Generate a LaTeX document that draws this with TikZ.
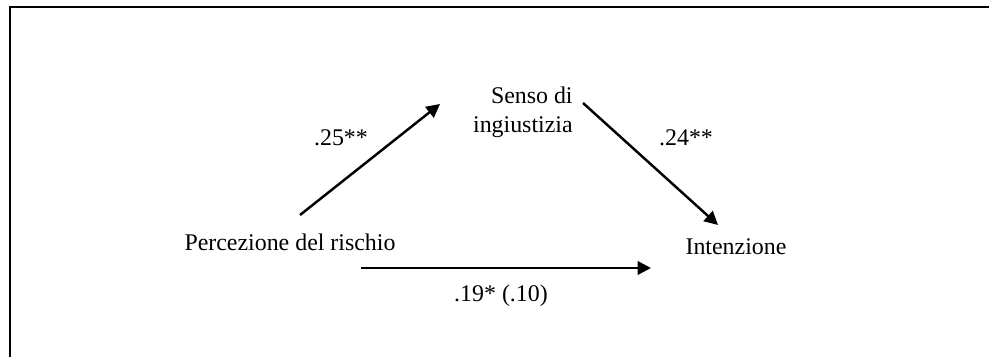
\documentclass[tikz,border=0pt]{standalone}
\usepackage{fontspec}
\setmainfont{Liberation Serif}
\usetikzlibrary{arrows.meta, positioning}

\begin{document}
\begin{tikzpicture}[x=0.02cm, y=-0.02cm, >={Triangle[length=0.27cm, width=0.27cm]},
            every node/.style={font=\fontsize{13.6}{16.2}\selectfont},
            link/.style={->, line width=1.4pt}]
            \useasboundingbox (0,0) rectangle (989,357);
            % frame, only its top and left sides fall inside the picture
            \draw[line width=1.2pt] (10,357) -- (10,7) -- (989,7);

            \node[anchor=base] (risk) at (290,251) {Percezione del rischio};
            \node[anchor=north east, align=right, inner sep=0pt] (unfair) at (573,87) {Senso di\\ingiustizia};
            \node[anchor=base] (intent) at (736,255) {Intenzione};

            \coordinate (a_from) at (300,215);
            \coordinate (a_to) at (440,104);
            \coordinate (b_from) at (583,103);
            \coordinate (b_to) at (718,225);
            \coordinate (c_from) at (361,268);
            \coordinate (c_to) at (651,268);

            \draw[link] (a_from) -- (a_to);
            \draw[link] (b_from) -- (b_to);
            \draw[link] (c_from) -- (c_to);

            \node[anchor=base] (a_lab) at (341,146) {.25**};
            \node[anchor=base] (b_lab) at (686,146) {.24**};
            \node[anchor=base] (c_lab) at (501,302) {.19* (.10)};
        \end{tikzpicture}
\end{document}
